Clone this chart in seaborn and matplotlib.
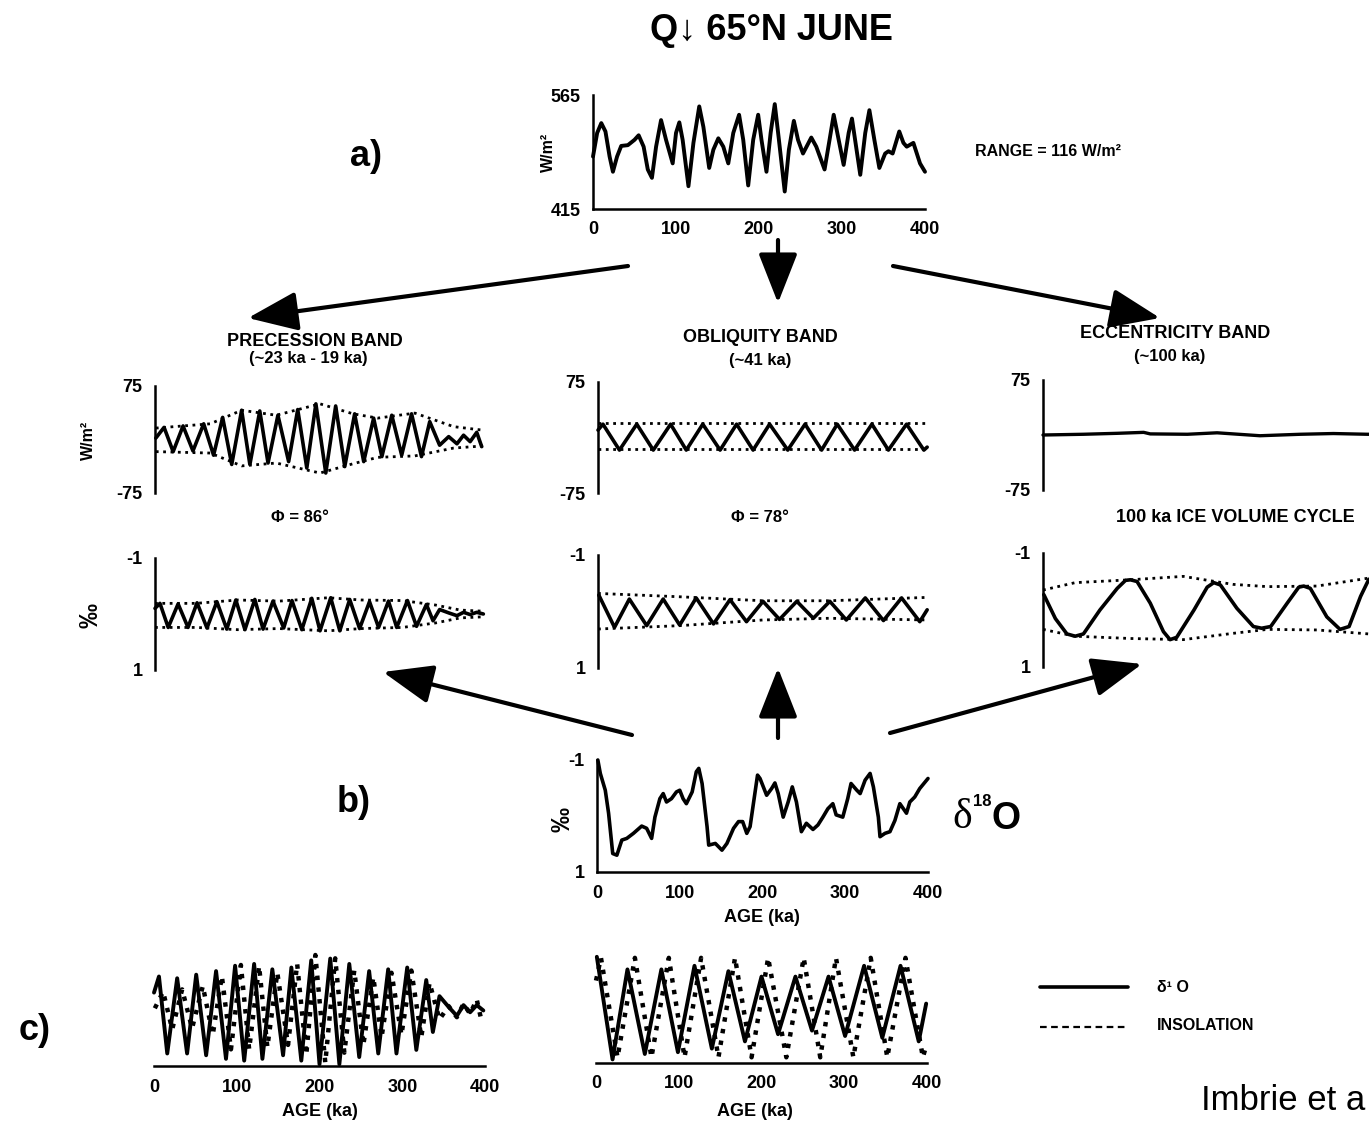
import numpy as np
import pandas as pd
import seaborn as sns
import matplotlib.pyplot as plt
from matplotlib.patches import FancyArrowPatch

# ---- a) insolation 65N June (W/m2) ----
ins_age = [0, 5, 10, 15, 20, 24, 29, 34, 42, 50, 55, 61, 66, 71, 76, 82, 88, 96, 100, 104, 108, 115,
           121, 128, 133, 140, 145, 151, 157, 163, 169, 176, 181, 187, 193, 199, 203, 209, 214, 219,
           224, 231, 236, 242, 247, 253, 263, 269, 279, 285, 290, 296, 302, 308, 312, 317, 322, 328,
           333, 339, 345, 352, 356, 361, 369, 374, 378, 386, 394, 400]
ins_val = [484, 515, 528, 517, 484, 464, 484, 498, 499, 506, 512, 497, 467, 456, 497, 532, 506, 475,
           515, 529, 506, 445, 502, 550, 523, 469, 493, 508, 497, 475, 515, 539, 506, 446, 506, 539,
           506, 464, 515, 553, 506, 438, 493, 531, 506, 488, 509, 497, 467, 506, 539, 506, 473, 515,
           534, 497, 460, 515, 545, 506, 469, 488, 491, 488, 517, 502, 497, 502, 475, 464]

# precession band, insolation (W/m2)
prec_age = [1, 11, 22, 34, 46, 59, 71, 82, 93, 105, 115, 127, 137, 149, 162, 173, 184, 195, 207, 219,
            230, 242, 253, 265, 275, 287, 299, 311, 323, 333, 345, 356, 366, 374, 382, 390, 396]
prec_ins = [2, 17, -17, 19, -16, 22, -22, 31, -35, 41, -35, 40, -33, 34, -31, 42, -40, 50, -47, 47,
            -38, 36, -31, 30, -24, 34, -22, 36, -24, 25, -8, 4, -6, 6, -3, 10, -10]
prec_env_age = [1, 67, 105, 147, 200, 240, 270, 315, 362, 398]
prec_env_up = [16, 22, 41, 34, 50, 36, 30, 37, 18, 13]
prec_env_lo = [-17, -19, -37, -33, -47, -34, -25, -23, -12, -9]

# precession band, d18O (per mil)
prec_d18_age = [0, 6, 16, 28, 40, 51, 63, 75, 87, 98, 109, 121, 131, 143, 156, 166, 178, 190, 200, 213,
                224, 236, 248, 260, 271, 283, 293, 306, 317, 329, 337, 345, 356, 366, 374, 382, 390, 398]
prec_d18 = [-0.10, -0.19, 0.24, -0.18, 0.24, -0.20, 0.25, -0.22, 0.27, -0.25, 0.28, -0.26, 0.27, -0.23,
            0.25, -0.24, 0.28, -0.28, 0.30, -0.29, 0.30, -0.26, 0.26, -0.22, 0.24, -0.23, 0.24, -0.24,
            0.22, -0.17, 0.12, -0.08, -0.02, 0.03, -0.03, 0.01, -0.03, 0.0]
prec_d18_env_age = [0, 50, 100, 150, 210, 250, 300, 340, 370, 398]
prec_d18_env_up = [-0.19, -0.19, -0.25, -0.23, -0.29, -0.25, -0.24, -0.16, -0.07, -0.05]
prec_d18_env_lo = [0.24, 0.24, 0.28, 0.26, 0.30, 0.26, 0.24, 0.16, 0.07, 0.05]

# obliquity band
obl_age = [0, 6, 26, 47, 67, 88, 107, 127, 148, 168, 188, 208, 230, 251, 271, 290, 311, 332, 352, 374, 395, 399]
obl_ins = [10, 18, -17, 18, -17, 18, -17, 18, -17, 18, -17, 18, -17, 18, -17, 18, -17, 18, -17, 18, -17, -13]
obl_env_age = [0, 400]
obl_env_up = [20, 20]
obl_env_lo = [-16, -16]
obl_d18_age = [1, 20, 38, 59, 79, 99, 119, 140, 160, 180, 200, 220, 241, 261, 281, 301, 324, 346, 368, 390, 399]
obl_d18 = [-0.29, 0.28, -0.22, 0.25, -0.22, 0.24, -0.24, 0.22, -0.21, 0.18, -0.18, 0.14, -0.18, 0.12,
           -0.18, 0.15, -0.24, 0.16, -0.24, 0.18, -0.03]
obl_d18_env_age = [0, 100, 200, 280, 400]
obl_d18_env_up = [-0.32, -0.26, -0.19, -0.19, -0.25]
obl_d18_env_lo = [0.31, 0.25, 0.15, 0.12, 0.15]

# eccentricity band
ecc_age = [0, 49, 90, 122, 130, 175, 211, 263, 312, 352, 393, 400]
ecc_ins = [0, 1, 2.3, 3.6, 1.5, 1, 3, -1, 1, 2, 1, 1]
ecc_d18_age = [1, 15, 29, 39, 49, 69, 90, 100, 106, 114, 130, 146, 154, 162, 183, 199, 207, 215, 235,
               255, 265, 276, 296, 310, 316, 324, 344, 360, 371, 385, 395]
ecc_d18 = [-0.27, 0.15, 0.42, 0.46, 0.42, 0.0, -0.38, -0.52, -0.53, -0.50, -0.12, 0.38, 0.52, 0.48, 0.0,
           -0.40, -0.48, -0.44, -0.03, 0.29, 0.32, 0.29, -0.12, -0.40, -0.42, -0.38, 0.12, 0.34, 0.29, -0.24, -0.54]
ecc_d18_env_age = [0, 39, 106, 170, 230, 272, 332, 395]
ecc_d18_env_up = [-0.35, -0.48, -0.53, -0.59, -0.45, -0.41, -0.42, -0.56]
ecc_d18_env_lo = [0.34, 0.46, 0.50, 0.52, 0.41, 0.34, 0.35, 0.42]

# b) d18O record (per mil)
d18_age = [1, 4, 10, 14, 19, 24, 30, 36, 44, 54, 60, 66, 70, 76, 80, 84, 90, 96, 100, 104, 108, 115, 120,
           123, 127, 133, 135, 143, 151, 157, 165, 171, 176, 181, 185, 189, 194, 197, 205, 211, 215, 219,
           225, 231, 236, 241, 247, 253, 261, 267, 273, 279, 285, 289, 297, 303, 307, 314, 318, 324, 330,
           334, 340, 342, 348, 354, 360, 366, 374, 378, 384, 390, 400]
d18_val = [-1.0, -0.76, -0.46, -0.05, 0.67, 0.70, 0.43, 0.40, 0.31, 0.18, 0.22, 0.40, 0.02, -0.31, -0.40,
           -0.25, -0.31, -0.43, -0.46, -0.31, -0.22, -0.43, -0.79, -0.85, -0.58, 0.19, 0.52, 0.49, 0.61,
           0.49, 0.22, 0.10, 0.10, 0.31, 0.19, -0.22, -0.73, -0.67, -0.37, -0.49, -0.59, -0.40, 0.02, -0.25,
           -0.52, -0.25, 0.28, 0.13, 0.24, 0.16, 0.02, -0.13, -0.22, -0.02, 0.02, -0.31, -0.58, -0.46, -0.40,
           -0.64, -0.76, -0.52, 0.02, 0.37, 0.31, 0.28, 0.08, -0.22, -0.05, -0.25, -0.34, -0.49, -0.67]

age_ticks = [0, 100, 200, 300, 400]

sns.set_theme(style="white")
plt.rcParams['font.family'] = ['Liberation Sans', 'DejaVu Sans']
plt.rcParams['font.weight'] = 'bold'
plt.rcParams['axes.linewidth'] = 1.8

W, H = 1369, 1124
fig = plt.figure(figsize=(W / 100, H / 100), dpi=100)
fig.patch.set_facecolor('white')

# overlay in pixel coords for labels and arrows
ov = fig.add_axes([0, 0, 1, 1])
ov.set_xlim(0, W)
ov.set_ylim(H, 0)
ov.axis('off')


def panel(left, right, top, bottom, ylim, yticks=None, ylabels=None, xaxis=False, leftspine=True):
    ax = fig.add_axes([left / W, 1 - bottom / H, (right - left) / W, (bottom - top) / H])
    ax.patch.set_alpha(0)
    for s in ax.spines.values():
        s.set_visible(False)
        s.set_color('black')
        s.set_linewidth(1.8)
    ax.set_xlim(0, 400)
    ax.set_ylim(*ylim)
    ax.tick_params(direction='out', length=7, width=1.8, labelsize=13, pad=2, colors='black')
    if leftspine:
        ax.spines['left'].set_visible(True)
        ax.set_yticks(yticks)
        ax.set_yticklabels(ylabels)
    else:
        ax.set_yticks([])
    if xaxis:
        ax.spines['bottom'].set_visible(True)
        ax.set_xticks(age_ticks)
        ax.set_xticklabels([str(t) for t in age_ticks])
    else:
        ax.set_xticks([])
    for lab in ax.get_xticklabels() + ax.get_yticklabels():
        lab.set_fontweight('bold')
    return ax


def curve(ax, x, y, ls='-', lw=2.6):
    df = pd.DataFrame({'age': x, 'val': y})
    sns.lineplot(data=df, x='age', y='val', ax=ax, color='black', linewidth=lw, linestyle=ls,
                 estimator=None, sort=False, solid_joinstyle='round', clip_on=False)
    ax.set_xlabel('')
    ax.set_ylabel('')


# a) top record
ax = panel(593, 925, 95, 209, (415, 565), [565, 415], ['565', '415'], xaxis=True)
curve(ax, ins_age, ins_val, lw=2.8)

# band panels, insolation
ax = panel(155, 485, 386, 493, (-75, 75), [75, -75], ['75', '-75'])
curve(ax, prec_age, prec_ins)
curve(ax, prec_env_age, prec_env_up, ls=':', lw=2)
curve(ax, prec_env_age, prec_env_lo, ls=':', lw=2)

ax = panel(598, 928, 382, 493, (-75, 75), [75, -75], ['75', '-75'])
curve(ax, obl_age, obl_ins)
curve(ax, obl_env_age, obl_env_up, ls=':', lw=2)
curve(ax, obl_env_age, obl_env_lo, ls=':', lw=2)

ax = panel(1043, 1373, 380, 490, (-75, 75), [75, -75], ['75', '-75'])
curve(ax, ecc_age, ecc_ins, lw=2.4)

# band panels, d18O
ax = panel(155, 485, 558, 670, (1, -1), [-1, 1], ['-1', '1'])
curve(ax, prec_d18_age, prec_d18)
curve(ax, prec_d18_env_age, prec_d18_env_up, ls=':', lw=2)
curve(ax, prec_d18_env_age, prec_d18_env_lo, ls=':', lw=2)

ax = panel(598, 928, 555, 668, (1, -1), [-1, 1], ['-1', '1'])
curve(ax, obl_d18_age, obl_d18)
curve(ax, obl_d18_env_age, obl_d18_env_up, ls=':', lw=2)
curve(ax, obl_d18_env_age, obl_d18_env_lo, ls=':', lw=2)

ax = panel(1043, 1373, 553, 667, (1, -1), [-1, 1], ['-1', '1'])
curve(ax, ecc_d18_age, ecc_d18)
curve(ax, ecc_d18_env_age, ecc_d18_env_up, ls=':', lw=2)
curve(ax, ecc_d18_env_age, ecc_d18_env_lo, ls=':', lw=2)

# b) d18O record
ax = panel(597, 928, 760, 872, (1, -1), [-1, 1], ['-1', '1'], xaxis=True)
curve(ax, d18_age, d18_val, lw=2.6)

# c) comparisons
ax = panel(154, 485, 955, 1066, (-50, 50), xaxis=True, leftspine=False)
curve(ax, prec_age, prec_ins, ls=':', lw=3.2)
tw = ax.twinx()
tw.set_ylim(0.31, -0.31)
tw.set_xlim(0, 400)
tw.axis('off')
curve(tw, prec_d18_age, prec_d18, lw=2.8)

ax = panel(596, 927, 955, 1063, (-19, 19), xaxis=True, leftspine=False)
curve(ax, obl_age, obl_ins, ls=':', lw=3.2)
tw = ax.twinx()
tw.set_ylim(0.3, -0.3)
tw.set_xlim(0, 400)
tw.axis('off')
curve(tw, obl_d18_age, obl_d18, lw=2.8)

# ---- text ----
B = dict(fontweight='bold', color='black')
ov.text(771, 30, 'Q\u2193 65\u00b0N JUNE', fontsize=26, ha='center', va='center', **B)
ov.text(366, 157, 'a)', fontsize=26, ha='center', va='center', **B)
ov.text(354, 802, 'b)', fontsize=26, ha='center', va='center', **B)
ov.text(35, 1031, 'c)', fontsize=26, ha='center', va='center', **B)
ov.text(975, 152, 'RANGE = 116 W/m\u00b2', fontsize=11.5, ha='left', va='center', **B)
ov.text(548, 152, 'W/m\u00b2', fontsize=11.5, ha='center', va='center', rotation=90, **B)

ov.text(315, 341, 'PRECESSION BAND', fontsize=13, ha='center', va='center', **B)
ov.text(308, 359, '(~23 ka - 19 ka)', fontsize=12, ha='center', va='center', **B)
ov.text(88, 440, 'W/m\u00b2', fontsize=11.5, ha='center', va='center', rotation=90, **B)
ov.text(300, 518, '\u03a6 = 86\u00b0', fontsize=12, ha='center', va='center', **B)

ov.text(760, 338, 'OBLIQUITY BAND', fontsize=13, ha='center', va='center', **B)
ov.text(760, 360, '(~41 ka)', fontsize=12, ha='center', va='center', **B)
ov.text(760, 517, '\u03a6 = 78\u00b0', fontsize=12, ha='center', va='center', **B)

ov.text(1175, 334, 'ECCENTRICITY BAND', fontsize=13, ha='center', va='center', **B)
ov.text(1170, 356, '(~100 ka)', fontsize=12, ha='center', va='center', **B)
ov.text(1235, 517, '100 ka ICE VOLUME CYCLE', fontsize=13, ha='center', va='center', **B)

ov.text(90, 615, '\u2030', fontsize=18, ha='center', va='center', rotation=90, **B)
ov.text(563, 820, '\u2030', fontsize=18, ha='center', va='center', rotation=90, **B)

ov.text(762, 918, 'AGE (ka)', fontsize=13, ha='center', va='center', **B)
ov.text(320, 1111, 'AGE (ka)', fontsize=13, ha='center', va='center', **B)
ov.text(755, 1111, 'AGE (ka)', fontsize=13, ha='center', va='center', **B)

# big delta 18 O
ov.text(962, 818, '\u03b4', fontsize=30, ha='center', va='center', fontweight='normal',
        family=['Liberation Serif', 'DejaVu Serif'], color='black')
ov.text(982, 802, '18', fontsize=12, ha='center', va='center', **B)
ov.text(1006, 819, 'O', fontsize=27, ha='center', va='center', **B)

# legend
ov.plot([1040, 1128], [987, 987], color='black', lw=2.6)
ov.plot([1040, 1128], [1027, 1027], color='black', lw=1.6, ls=(0, (3, 2)))
ov.text(1157, 987, '\u03b4\u00b9 O', fontsize=11.5, ha='left', va='center', **B)
ov.text(1157, 1026, 'INSOLATION', fontsize=11.5, ha='left', va='center', **B)

# source note (cut at the edge in the reference, shown as far as it is visible)
ov.text(1201, 1100, 'Imbrie et a', fontsize=25, ha='left', va='center', fontweight='normal', color='black')

# arrows
arrows = [((628, 266), (248, 318)), ((778, 240), (778, 303)), ((893, 266), (1160, 318)),
          ((632, 735), (383, 672)), ((778, 738), (778, 668)), ((890, 733), (1142, 664))]
for a, b in arrows:
    ov.add_patch(FancyArrowPatch(a, b, arrowstyle='-|>,head_length=1.4,head_width=0.55',
                                 mutation_scale=22, lw=3, color='black', shrinkA=0, shrinkB=0))

fig.savefig('out.png', dpi=100, facecolor='white')
